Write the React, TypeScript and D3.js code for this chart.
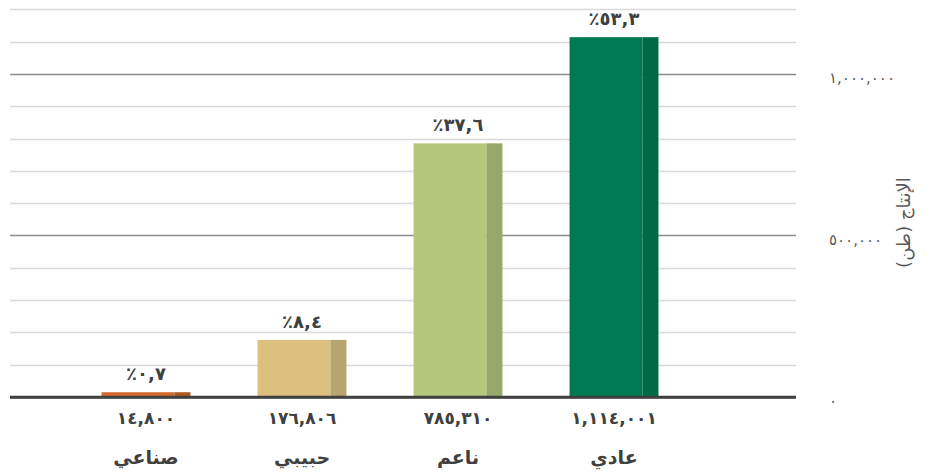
import React from 'react';
import * as d3 from 'd3';

const categories = ['صناعي', 'حبيبي', 'ناعم', 'عادي'];
const values = [14800, 176806, 785310, 1114001];
const percentLabels = ['٪٠,٧', '٪٨,٤', '٪٣٧,٦', '٪٥٣,٣'];
const mainColors = ['#d4692b', '#dcc080', '#b5c77a', '#007a53'];
const sideColors = ['#b05a22', '#b8a56d', '#95a867', '#006a45'];
const yTicks = [0, 500000, 1000000];
const yMinorTicks = d3.range(0, 1200001, 100000);
const yTitle = 'الإنتاج (طن)';

const W = 926;
const H = 472;
const gridLeft = 10;
const gridRight = 796;

const toArabic = (s: string) => s.replace(/[0-9]/g, (d) => '٠١٢٣٤٥٦٧٨٩'[+d]);
const fmt = d3.format(',');

export default function App() {
  const x = d3.scaleBand<string>().domain(categories).range([68, 692]).paddingInner(0.43).paddingOuter(0.215);
  const y = d3.scaleLinear().domain([0, 1200000]).range([397, 9.4]);
  const bw = x.bandwidth();
  const sideW = bw * 0.18;
  const font = "'DejaVu Sans', sans-serif";
  return (
    <svg width={W} height={H} style={{ position: 'absolute', left: 0, top: 0 }} fontFamily={font}>
      <rect width={W} height={H} fill="#fff" />
      {yMinorTicks.map((t) => (
        <line key={'g' + t} x1={gridLeft} x2={gridRight} y1={Math.round(y(t)) + 0.5} y2={Math.round(y(t)) + 0.5}
          stroke={t === 0 ? '#404040' : yTicks.includes(t) ? '#8c8c8c' : '#d9d9d9'} strokeWidth={t === 0 ? 2.5 : 1.5} />
      ))}
      {categories.map((c, i) => {
        const x0 = x(c)!;
        const top = y(values[i]);
        const h = y(0) - top;
        return (
          <g key={c}>
            <rect x={x0} y={top} width={bw - sideW} height={h} fill={mainColors[i]} />
            <rect x={x0 + bw - sideW} y={top} width={sideW} height={h} fill={sideColors[i]} />
            <text x={x0 + bw / 2} y={top - 12} textAnchor="middle" fontWeight="bold" fontSize={18} fill="#404040" direction="ltr">
              {percentLabels[i]}
            </text>
            <text x={x0 + bw / 2} y={424} textAnchor="middle" fontWeight="bold" fontSize={17} fill="#404040" direction="ltr">
              {toArabic(fmt(values[i]))}
            </text>
            <text x={x0 + bw / 2} y={464} textAnchor="middle" fontWeight="bold" fontSize={19} fill="#404040" direction="rtl">
              {c}
            </text>
          </g>
        );
      })}
      <line x1={gridLeft} x2={gridRight} y1={y(0)} y2={y(0)} stroke="#404040" strokeWidth={2.5} />
      {yTicks.map((t) => (
        <text key={'t' + t} x={829} y={y(t) + 9} fontSize={15} fill="#595959" textAnchor="start" direction="ltr">
          {toArabic(fmt(t))}
        </text>
      ))}
      <text transform={`translate(910,${y(540000)}) rotate(-90)`} textAnchor="middle" fontSize={18} fill="#595959" direction="rtl">
        {yTitle}
      </text>
    </svg>
  );
}
